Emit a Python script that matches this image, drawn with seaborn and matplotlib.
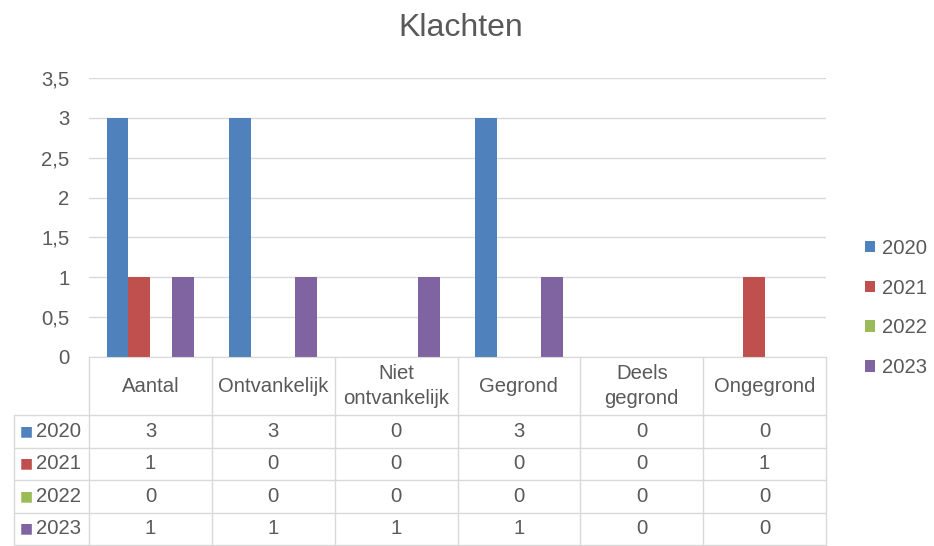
import pandas as pd
import seaborn as sns
import matplotlib.pyplot as plt
from matplotlib.transforms import blended_transform_factory
from matplotlib.ticker import FuncFormatter

categories = ["Aantal", "Ontvankelijk", "Niet\nontvankelijk", "Gegrond", "Deels\ngegrond", "Ongegrond"]
years = ["2020", "2021", "2022", "2023"]
v2020 = [3, 3, 0, 3, 0, 0]
v2021 = [1, 0, 0, 0, 0, 1]
v2022 = [0, 0, 0, 0, 0, 0]
v2023 = [1, 1, 1, 1, 0, 0]
colors = ["#4f81bd", "#c0504d", "#9bbb59", "#8064a2"]

series = [v2020, v2021, v2022, v2023]
rows = []
for y, vals in zip(years, series):
    for c, v in zip(categories, vals):
        rows.append({"categorie": c, "jaar": y, "aantal": v})
df = pd.DataFrame(rows)

sns.set_style("white")
plt.rcParams["font.family"] = ["Liberation Sans", "DejaVu Sans"]
txt = "#595959"
grid = "#d9d9d9"
fs = 14.6

fig = plt.figure(figsize=(9.34, 5.46), dpi=100)
ax = fig.add_axes([89 / 934, 189 / 546, 737 / 934, 279 / 546])

sns.barplot(data=df, x="categorie", y="aantal", hue="jaar", palette=colors,
            width=0.715, saturation=1, errorbar=None, linewidth=0, ax=ax)

ax.set_xlim(-0.5, len(categories) - 0.5)
ax.set_ylim(0, 3.5)
ax.set_yticks([i * 0.5 for i in range(8)])
ax.yaxis.set_major_formatter(FuncFormatter(lambda v, p: ("%g" % v).replace(".", ",")))
ax.yaxis.grid(True, color=grid, linewidth=1)
ax.set_axisbelow(True)
ax.tick_params(axis="y", length=0, pad=14, labelsize=fs, labelcolor=txt)
ax.set_xticks([])
ax.set_xlabel("")
ax.set_ylabel("")
for s in ["top", "right", "left"]:
    ax.spines[s].set_visible(False)
ax.spines["bottom"].set_color(grid)

# legend
handles, labels = ax.get_legend_handles_labels()
ax.get_legend().remove()
fig.legend(handles, labels, loc="center left", bbox_to_anchor=(847 / 934, 0.436),
           frameon=False, fontsize=fs, labelcolor=txt, handlelength=0.5,
           handleheight=0.5, handletextpad=0.35, labelspacing=1.03)

fig.text(461 / 934, 1 - 28 / 546, "Klachten", ha="center", va="center",
         fontsize=23, color=txt)

# data table below the axis
tr = blended_transform_factory(ax.transData, ax.transAxes)
px = 1 / 279
head_bot = -58 * px
row_h = 32.5 * px
n = len(categories)
label_left = -0.5 - 75 / 123
bottom = head_bot - 4 * row_h

kw = dict(color=grid, linewidth=1, transform=tr, clip_on=False)
for xb in [i - 0.5 for i in range(n + 1)]:
    ax.plot([xb, xb], [0, bottom], **kw)
ax.plot([label_left, label_left], [head_bot, bottom], **kw)
for k in range(5):
    yl = head_bot - k * row_h
    ax.plot([label_left, n - 0.5], [yl, yl], **kw)

for j, c in enumerate(categories):
    ax.text(j, head_bot / 2, c, ha="center", va="center", fontsize=fs,
            color=txt, transform=tr, linespacing=1.35)

for k, (y, vals, col) in enumerate(zip(years, series, colors)):
    yc = head_bot - (k + 0.5) * row_h
    ax.text(label_left + 0.05, yc, "\u25a0", ha="left", va="center",
            fontsize=10, color=col, transform=tr, family="DejaVu Sans")
    ax.text(label_left + 0.18, yc, y, ha="left", va="center", fontsize=fs,
            color=txt, transform=tr)
    for j, v in enumerate(vals):
        ax.text(j, yc, str(v), ha="center", va="center", fontsize=fs,
                color=txt, transform=tr)

fig.savefig("out.png", dpi=100)
